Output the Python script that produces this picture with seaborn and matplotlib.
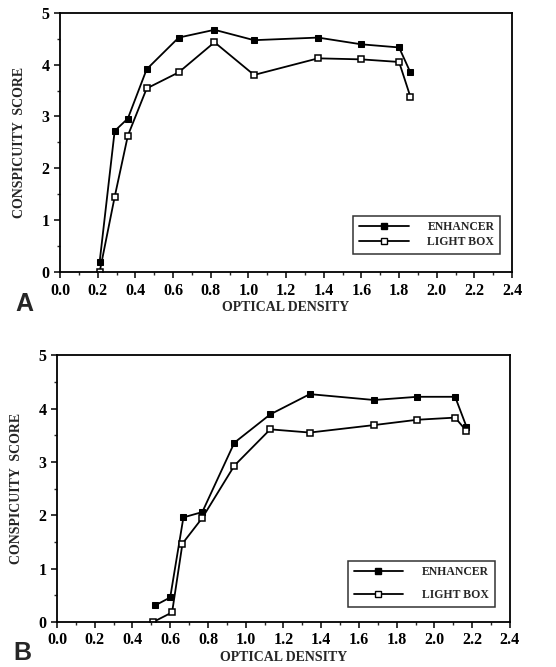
import numpy as np
import pandas as pd
import seaborn as sns
import matplotlib.pyplot as plt
from matplotlib.lines import Line2D
from matplotlib.ticker import MultipleLocator, FormatStrFormatter

sns.set_style("ticks")
plt.rcParams['font.family'] = ['Liberation Serif', 'DejaVu Serif']
plt.rcParams['font.weight'] = 'bold'

# panel A
a_od_enh = [0.21, 0.29, 0.36, 0.46, 0.63, 0.82, 1.03, 1.37, 1.60, 1.80, 1.86]
a_enhancer = [0.19, 2.72, 2.96, 3.91, 4.52, 4.67, 4.47, 4.52, 4.39, 4.33, 3.85]
a_od_lb = [0.21, 0.29, 0.36, 0.46, 0.63, 0.82, 1.03, 1.37, 1.60, 1.80, 1.86]
a_lightbox = [0.00, 1.45, 2.63, 3.54, 3.85, 4.43, 3.80, 4.12, 4.10, 4.05, 3.38]

# panel B
b_od_enh = [0.52, 0.60, 0.67, 0.77, 0.94, 1.13, 1.34, 1.68, 1.91, 2.11, 2.17]
b_enhancer = [0.31, 0.46, 1.96, 2.06, 3.36, 3.89, 4.27, 4.16, 4.22, 4.22, 3.66]
b_od_lb = [0.51, 0.61, 0.665, 0.77, 0.94, 1.13, 1.34, 1.68, 1.91, 2.11, 2.17]
b_lightbox = [0.00, 0.18, 1.47, 1.95, 2.93, 3.61, 3.55, 3.69, 3.79, 3.83, 3.58]

labels = ["ENHANCER", "LIGHT BOX"]

fig = plt.figure(figsize=(5.56, 6.67), dpi=100)
ax_a = fig.add_axes([0.108, 0.592, 0.813, 0.389])
ax_b = fig.add_axes([0.1025, 0.0675, 0.8145, 0.400])


def draw_panel(ax, x_enh, y_enh, x_lb, y_lb, legend_pos, spacing):
    df_enh = pd.DataFrame({"od": x_enh, "score": y_enh})
    df_lb = pd.DataFrame({"od": x_lb, "score": y_lb})
    sns.lineplot(data=df_enh, x="od", y="score", ax=ax, color="black", lw=1.3,
                 marker="s", markersize=4.6, markerfacecolor="black",
                 markeredgecolor="black", sort=False, estimator=None)
    sns.lineplot(data=df_lb, x="od", y="score", ax=ax, color="black", lw=1.3,
                 marker="s", markersize=4.6, markerfacecolor="white",
                 markeredgecolor="black", markeredgewidth=1.1, sort=False,
                 estimator=None)
    ax.set_xlim(0, 2.4)
    ax.set_ylim(0, 5)
    ax.xaxis.set_major_locator(MultipleLocator(0.2))
    ax.xaxis.set_minor_locator(MultipleLocator(0.1))
    ax.xaxis.set_major_formatter(FormatStrFormatter("%.1f"))
    ax.yaxis.set_major_locator(MultipleLocator(1))
    ax.yaxis.set_minor_locator(MultipleLocator(0.5))
    ax.tick_params(which="major", length=4, width=1.1, labelsize=11.5,
                   direction="out", colors="black")
    ax.tick_params(which="minor", length=2.5, width=1.0, direction="out")
    for s in ax.spines.values():
        s.set_linewidth(1.3)
        s.set_color("black")
    for t in ax.get_xticklabels() + ax.get_yticklabels():
        t.set_fontweight("bold")
    ax.set_xlabel("OPTICAL DENSITY", fontsize=10, fontweight="bold", labelpad=2)
    ax.set_ylabel("CONSPICUITY  SCORE", fontsize=10, fontweight="bold", labelpad=11)
    handles = [
        Line2D([], [], color="black", lw=1.3, marker="s", markersize=4.5,
               markerfacecolor="black", markeredgecolor="black"),
        Line2D([], [], color="black", lw=1.3, marker="s", markersize=4.5,
               markerfacecolor="white", markeredgecolor="black"),
    ]
    leg = ax.legend(handles, labels, loc="lower right", bbox_to_anchor=legend_pos,
                    frameon=True, fancybox=False, edgecolor="black",
                    handlelength=4.2, handletextpad=1.6, labelspacing=spacing,
                    borderpad=0.5, prop={"weight": "bold", "size": 8.5})
    leg.get_frame().set_linewidth(1.1)


draw_panel(ax_a, a_od_enh, a_enhancer, a_od_lb, a_lightbox, (0.987, 0.046), 0.25)
draw_panel(ax_b, b_od_enh, b_enhancer, b_od_lb, b_lightbox, (0.98, 0.034), 0.9)

fig.text(0.027, 0.533, "A", fontsize=18, fontweight="bold", family="Liberation Sans")
fig.text(0.024, 0.010, "B", fontsize=18, fontweight="bold", family="Liberation Sans")

fig.savefig("out.png", dpi=100)
